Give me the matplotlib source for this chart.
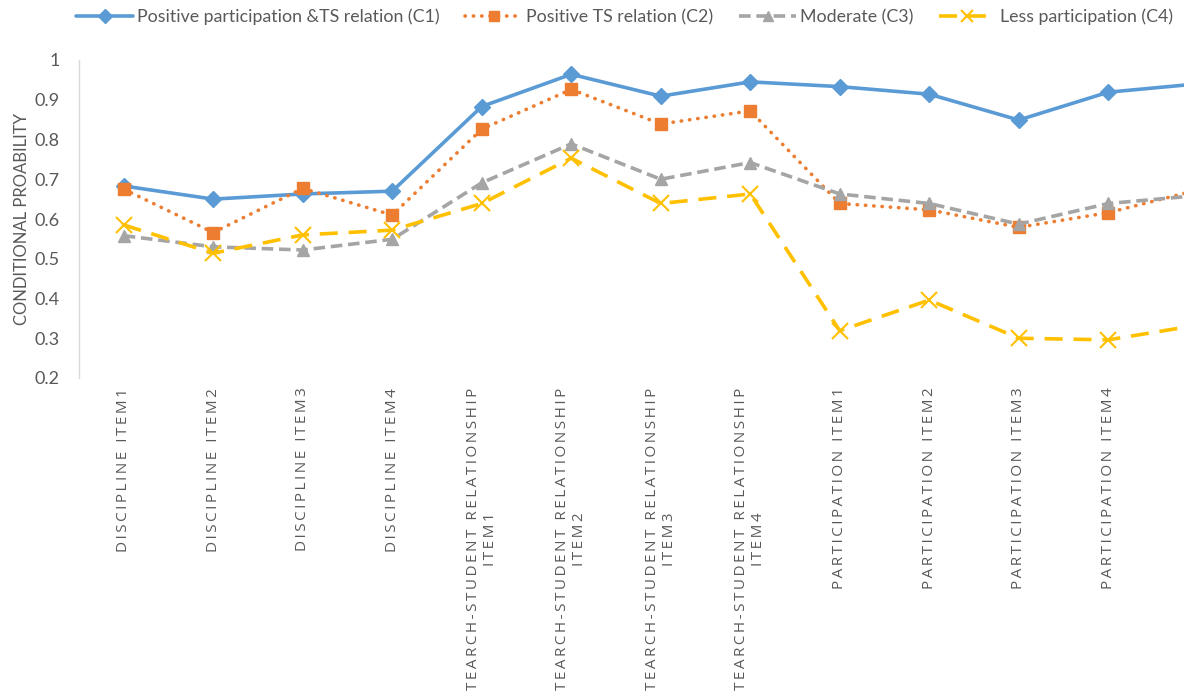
import matplotlib
matplotlib.use("Agg")
import matplotlib.pyplot as plt
from matplotlib.font_manager import FontProperties

categories = [
    "DISCIPLINE ITEM1", "DISCIPLINE ITEM2", "DISCIPLINE ITEM3", "DISCIPLINE ITEM4",
    "TEARCH-STUDENT RELATIONSHIP\nITEM1", "TEARCH-STUDENT RELATIONSHIP\nITEM2",
    "TEARCH-STUDENT RELATIONSHIP\nITEM3", "TEARCH-STUDENT RELATIONSHIP\nITEM4",
    "PARTICIPATION ITEM1", "PARTICIPATION ITEM2", "PARTICIPATION ITEM3",
    "PARTICIPATION ITEM4", "PARTICIPATION ITEM5",
]
c1 = [0.683, 0.650, 0.663, 0.670, 0.883, 0.964, 0.909, 0.945, 0.933, 0.914, 0.849, 0.919, 0.940]
c2 = [0.675, 0.566, 0.677, 0.610, 0.826, 0.926, 0.839, 0.872, 0.639, 0.623, 0.579, 0.616, 0.673]
c3 = [0.558, 0.530, 0.522, 0.549, 0.691, 0.789, 0.700, 0.742, 0.663, 0.639, 0.587, 0.639, 0.659]
c4 = [0.585, 0.514, 0.560, 0.572, 0.639, 0.753, 0.639, 0.663, 0.319, 0.396, 0.300, 0.296, 0.333]
labels = ["Positive participation &TS relation (C1)", "Positive TS relation (C2)",
          "Moderate (C3)", "Less participation (C4)"]
yticks = [0.2, 0.3, 0.4, 0.5, 0.6, 0.7, 0.8, 0.9, 1.0]
ytick_labels = ["0.2", "0.3", "0.4", "0.5", "0.6", "0.7", "0.8", "0.9", "1"]

plt.rcParams['font.family'] = ['Lato', 'DejaVu Sans']
TXT = '#595959'


def spaced(s):
    # emulate the letter-spacing of the original axis labels
    return "\n".join("\u2009".join(line) for line in s.split("\n"))


W, H = 1184, 695
fig = plt.figure(figsize=(W / 100, H / 100), dpi=100)
left, right, top, bottom = 79, 79 + 13 * 89.5, 60, 378
ax = fig.add_axes([left / W, 1 - bottom / H, (right - left) / W, (bottom - top) / H])

x = list(range(len(categories)))
l1, = ax.plot(x, c1, color='#5B9BD5', lw=2.6, marker='D', ms=8, solid_capstyle='round')
l2, = ax.plot(x, c2, color='#ED7D31', lw=2.6, linestyle=(0, (0.1, 2.2)), dash_capstyle='round',
              marker='s', ms=9)
l3, = ax.plot(x, c3, color='#A5A5A5', lw=2.6, linestyle=(0, (3.2, 1.6)), marker='^', ms=9)
l4, = ax.plot(x, c4, color='#FFC000', lw=2.6, linestyle=(0, (5, 3)), marker='x', ms=11, mew=1.5)

ax.set_xlim(-0.5, len(categories) - 0.5)
ax.set_ylim(0.2, 1.0)
ax.set_yticks(yticks)
ax.set_yticklabels(ytick_labels)
ax.set_xticks(x)
ax.set_xticklabels([spaced(c) for c in categories], rotation=90, ha='center', va='top',
                   multialignment='center')
ax.tick_params(axis='both', length=0, colors=TXT)
ax.tick_params(axis='y', labelsize=13, pad=14)
ax.tick_params(axis='x', pad=7)
for lab in ax.get_xticklabels():
    lab.set_fontproperties(FontProperties(family=['Open Sans', 'DejaVu Sans'], size=11))
    lab.set_color(TXT)
for s in ['top', 'right', 'bottom']:
    ax.spines[s].set_visible(False)
ax.spines['left'].set_color('#D9D9D9')
ax.spines['left'].set_linewidth(1)
ax.set_ylabel("CONDITIONAL PROABILITY", color=TXT, fontsize=12, labelpad=3)

fig.legend([l1, l2, l3, l4], labels, loc='center', bbox_to_anchor=(624.5 / W, 1 - 17 / H),
           ncol=4, frameon=False, fontsize=12.8, labelcolor=TXT, handlelength=3.2,
           columnspacing=1.45, handletextpad=0.22, markerscale=0.85)

fig.savefig('out.png', dpi=100)
